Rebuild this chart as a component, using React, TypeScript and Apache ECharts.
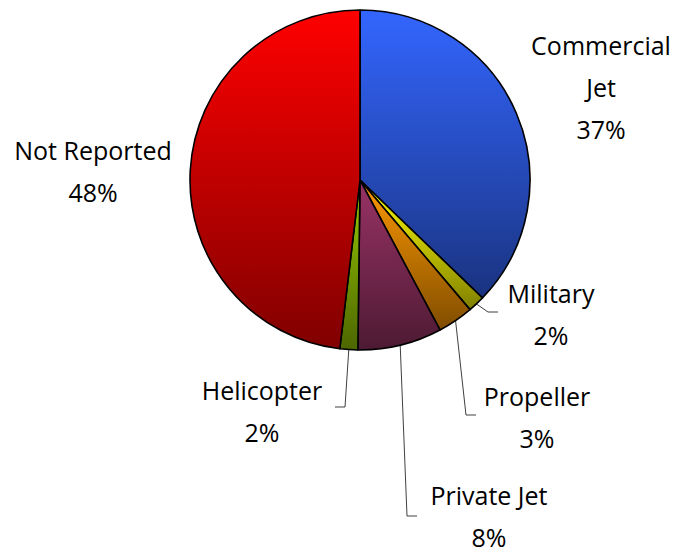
import React, { useEffect, useRef } from "react";
import * as echarts from "echarts";

const categories = ["Commercial Jet", "Military", "Propeller", "Private Jet", "Helicopter", "Not Reported"];
const labelNames = ["Commercial\nJet", "Military", "Propeller", "Private Jet", "Helicopter", "Not Reported"];
const shares = [37.2, 1.6, 3.4, 8.0, 1.7, 48.1];
const topColors = ["#3366FF", "#FFFF00", "#FF9900", "#993366", "#99CC00", "#FF0000"];
const bottomColors = ["#1A3380", "#808000", "#804D00", "#4D1A33", "#4D6600", "#800000"];
const showLines = [false, true, true, true, true, false];

// label layout (pixel positions of label block centers and leader-line elbows)
const labelSpots = [
  [601, 87],
  [551, 314],
  [537, 417],
  [489, 516],
  [262, 411],
  [93, 171],
];
const elbows: (number[][] | null)[] = [
  null,
  [[488, 312], [498, 312]],
  [[466, 415], [476, 415]],
  [[407, 516], [417, 516]],
  [[345, 407], [335, 407]],
  null,
];

export default function App() {
  const ref = useRef<HTMLDivElement>(null);
  useEffect(() => {
    if (!ref.current) return;
    const chart = echarts.init(ref.current, null, { renderer: "svg" });
    const data = categories.map((name, i) => ({
      name,
      value: shares[i],
      itemStyle: {
        color: new echarts.graphic.LinearGradient(0, 0, 0, 1, [
          { offset: 0, color: topColors[i] },
          { offset: 1, color: bottomColors[i] },
        ]),
      },
      labelLine: { show: showLines[i] },
    }));
    chart.setOption({
      animation: false,
      backgroundColor: "#ffffff",
      series: [
        {
          type: "pie",
          center: [360, 180],
          radius: 170,
          startAngle: 90,
          clockwise: true,
          avoidLabelOverlap: false,
          percentPrecision: 0,
          data,
          itemStyle: { borderColor: "#000000", borderWidth: 1.6 },
          emphasis: { disabled: true },
          label: {
            show: true,
            position: "outside",
            formatter: (p: any) => `${labelNames[p.dataIndex]}\n${p.percent}%`,
            fontFamily: "'Open Sans', Lato, sans-serif",
            fontSize: 25,
            lineHeight: 42,
            color: "#000000",
            align: "center",
          },
          labelLine: {
            show: true,
            length: 10,
            length2: 10,
            lineStyle: { color: "#404040", width: 1 },
          },
          labelLayout: (params: any) => {
            const i = params.dataIndex;
            const spot = labelSpots[i];
            const res: any = {
              x: spot[0],
              y: spot[1],
              align: "center",
              verticalAlign: "middle",
            };
            const el = elbows[i];
            if (el && params.labelLinePoints && params.labelLinePoints[0]) {
              res.labelLinePoints = [params.labelLinePoints[0], el[0], el[1]];
            }
            return res;
          },
        },
      ],
    });
    return () => chart.dispose();
  }, []);
  return (
    <div
      ref={ref}
      style={{ position: "fixed", left: 0, top: 0, width: 681, height: 554 }}
    />
  );
}
